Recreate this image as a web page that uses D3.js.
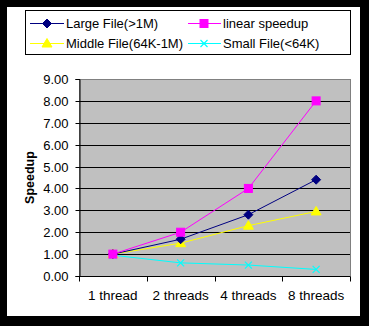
<!DOCTYPE html>
<html>
<head>
<meta charset="utf-8">
<script src="https://cdn.jsdelivr.net/npm/d3@7"></script>
<style>
  html, body { margin: 0; padding: 0; background: #000; }
  svg { display: block; }
  text { font-family: Arial, "Liberation Sans", sans-serif; }
</style>
</head>
<body>
<svg id="chart" width="369" height="326"></svg>
<script>
// Thread counts on the x axis
const categories = ["1 thread", "2 threads", "4 threads", "8 threads"];

// Speedup per file size class
const largeFile  = [1.00, 1.68, 2.80, 4.40];
const linearSpeedup = [1.00, 2.00, 4.00, 8.00];
const middleFile = [1.00, 1.50, 2.30, 2.95];
const smallFile  = [0.95, 0.60, 0.50, 0.30];

const yTicks = [0, 1, 2, 3, 4, 5, 6, 7, 8, 9];

const series = [
  { name: "Large File(>1M)",      values: largeFile,     color: "#000080", marker: "diamond" },
  { name: "linear speedup",       values: linearSpeedup, color: "#FF00FF", marker: "square" },
  { name: "Middle File(64K-1M)",  values: middleFile,    color: "#FFFF00", marker: "triangle" },
  { name: "Small File(<64K)",     values: smallFile,     color: "#00FFFF", marker: "cross" }
];

const svg = d3.select("#chart");

// white chart area on black frame
svg.append("rect").attr("x", 7).attr("y", 7).attr("width", 353).attr("height", 309).attr("fill", "#fff");

const plot = { left: 79, right: 350, top: 79, bottom: 276 };

const x = d3.scaleBand().domain(categories).range([plot.left, plot.right]);
const y = d3.scaleLinear().domain([0, 9]).range([plot.bottom, plot.top]);

// plot background
svg.append("rect")
  .attr("x", plot.left).attr("y", plot.top)
  .attr("width", plot.right - plot.left).attr("height", plot.bottom - plot.top)
  .attr("fill", "#C0C0C0").attr("stroke", "#808080").attr("stroke-width", 1)
  .attr("shape-rendering", "crispEdges");

// horizontal gridlines
svg.append("g").selectAll("line").data(yTicks.filter(d => d > 0 && d < 9)).join("line")
  .attr("x1", plot.left).attr("x2", plot.right)
  .attr("y1", d => Math.round(y(d)) + 0.5).attr("y2", d => Math.round(y(d)) + 0.5)
  .attr("stroke", "#000").attr("stroke-width", 1);

// y axis
const yAxis = svg.append("g")
  .attr("transform", `translate(${plot.left + 0.5},0)`)
  .call(d3.axisLeft(y).tickValues(yTicks).tickFormat(d3.format(".2f")).tickSize(4).tickPadding(7));
yAxis.selectAll("text").attr("font-size", 13).attr("fill", "#000");
yAxis.select(".domain").attr("stroke", "#000");
yAxis.selectAll(".tick line").attr("stroke", "#000");
yAxis.selectAll(".tick").attr("transform", d => `translate(0,${Math.round(y(d)) + 0.5})`);

// x axis with ticks at category boundaries
const xAxisG = svg.append("g").attr("transform", `translate(0,${plot.bottom + 0.5})`);
xAxisG.append("line").attr("x1", plot.left).attr("x2", plot.right).attr("stroke", "#000");
const bounds = categories.map(c => x(c)).concat([plot.right]);
xAxisG.selectAll(".bt").data(bounds).join("line").attr("class", "bt")
  .attr("x1", d => Math.round(d) + 0.5).attr("x2", d => Math.round(d) + 0.5)
  .attr("y1", 0).attr("y2", 5).attr("stroke", "#000");
xAxisG.selectAll("text").data(categories).join("text")
  .attr("x", d => x(d) + x.bandwidth() / 2).attr("y", 23.5)
  .attr("text-anchor", "middle").attr("font-size", 13.5).attr("fill", "#000")
  .text(d => d);

// y axis title
svg.append("text")
  .attr("transform", `translate(34,${(plot.top + plot.bottom) / 2}) rotate(-90)`)
  .attr("text-anchor", "middle").attr("font-size", 12.5).attr("font-weight", "bold")
  .text("Speedup");

function drawMarker(g, type, color, cx, cy) {
  if (type === "diamond") {
    g.append("path").attr("d", `M${cx},${cy - 4.5}L${cx + 4.5},${cy}L${cx},${cy + 4.5}L${cx - 4.5},${cy}Z`)
      .attr("fill", color).attr("stroke", color);
  } else if (type === "square") {
    g.append("rect").attr("x", cx - 4).attr("y", cy - 4).attr("width", 8).attr("height", 8)
      .attr("fill", color).attr("stroke", color);
  } else if (type === "triangle") {
    g.append("path").attr("d", `M${cx},${cy - 5}L${cx + 5},${cy + 3.5}L${cx - 5},${cy + 3.5}Z`)
      .attr("fill", color).attr("stroke", color);
  } else if (type === "cross") {
    g.append("path").attr("d", `M${cx - 3.5},${cy - 3.5}L${cx + 3.5},${cy + 3.5}M${cx - 3.5},${cy + 3.5}L${cx + 3.5},${cy - 3.5}`)
      .attr("fill", "none").attr("stroke", color).attr("stroke-width", 1.2);
  }
}

const line = d3.line()
  .x((d, i) => x(categories[i]) + x.bandwidth() / 2)
  .y(d => y(d));

// series lines and markers (drawn back to front)
const drawOrder = [3, 2, 0, 1];
drawOrder.forEach(si => {
  const s = series[si];
  const g = svg.append("g");
  g.append("path").datum(s.values).attr("d", line)
    .attr("fill", "none").attr("stroke", s.color).attr("stroke-width", 1);
  s.values.forEach((v, i) => {
    drawMarker(g, s.marker, s.color, x(categories[i]) + x.bandwidth() / 2, y(v));
  });
});

// legend
const legend = svg.append("g");
legend.append("rect").attr("x", 25.5).attr("y", 10.5).attr("width", 325).attr("height", 44)
  .attr("fill", "#fff").attr("stroke", "#000").attr("stroke-width", 1);
const legendPos = [
  { x1: 30, x2: 64, mx: 47, tx: 66, y: 23 },
  { x1: 188, x2: 221, mx: 204, tx: 223, y: 23 },
  { x1: 30, x2: 64, mx: 47, tx: 66, y: 43 },
  { x1: 188, x2: 221, mx: 204, tx: 223, y: 43 }
];
series.forEach((s, i) => {
  const p = legendPos[i];
  const g = legend.append("g");
  g.append("line").attr("x1", p.x1).attr("x2", p.x2).attr("y1", p.y + 0.5).attr("y2", p.y + 0.5)
    .attr("stroke", s.color).attr("stroke-width", 1);
  drawMarker(g, s.marker, s.color, p.mx, p.y + 0.5);
  g.append("text").attr("x", p.tx).attr("y", p.y + 4.7).attr("font-size", 13).attr("fill", "#000").text(s.name);
});
</script>
</body>
</html>
